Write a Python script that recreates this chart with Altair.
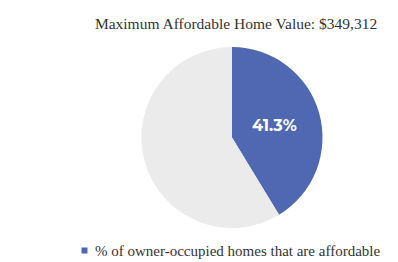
import altair as alt
import pandas as pd

categories = ["% of owner-occupied homes that are affordable", "Not affordable"]
values = [41.3, 58.7]
labels = ["41.3%", ""]
order = [0, 1]
title_text = "Maximum Affordable Home Value: $349,312"

df = pd.DataFrame({"category": categories, "value": values, "label": labels, "order": order})

W, H = 382, 254
CX, CY, R = 224, 129.5, 90.5

color_scale = alt.Scale(domain=categories, range=["#5067B1", "#EBEBEB"])

arc = alt.Chart(df).mark_arc(radius=R, x=CX, y=CY, stroke=None).encode(
    theta=alt.Theta("value:Q", stack=True),
    order=alt.Order("order:Q"),
    color=alt.Color(
        "category:N",
        scale=color_scale,
        legend=alt.Legend(
            values=[categories[0]],
            orient="none",
            legendX=69,
            legendY=235,
            title=None,
            symbolType="square",
            symbolSize=36,
            symbolStrokeWidth=0,
            labelFont="Liberation Serif",
            labelFontSize=15,
            labelColor="#333333",
            labelLimit=400,
            labelOffset=3,
        ),
    ),
)

txt = alt.Chart(df).mark_text(
    radius=44, x=CX, y=CY, font="Montserrat, DejaVu Sans", fontWeight="bold", fontSize=16, color="white"
).encode(
    theta=alt.Theta("value:Q", stack=True),
    order=alt.Order("order:Q"),
    text="label:N",
)

title = alt.Chart(pd.DataFrame({"t": [title_text]})).mark_text(
    font="Liberation Serif", fontSize=15.5, color="#333333", align="center", baseline="middle"
).encode(text="t:N", x=alt.value(228), y=alt.value(16))

chart = alt.layer(arc, txt, title).properties(
    width=W, height=H, padding=0, autosize=alt.AutoSizeParams(type="none")
).configure_view(stroke=None)

chart.save("out.html", embed_options={"renderer": "svg", "actions": False})
